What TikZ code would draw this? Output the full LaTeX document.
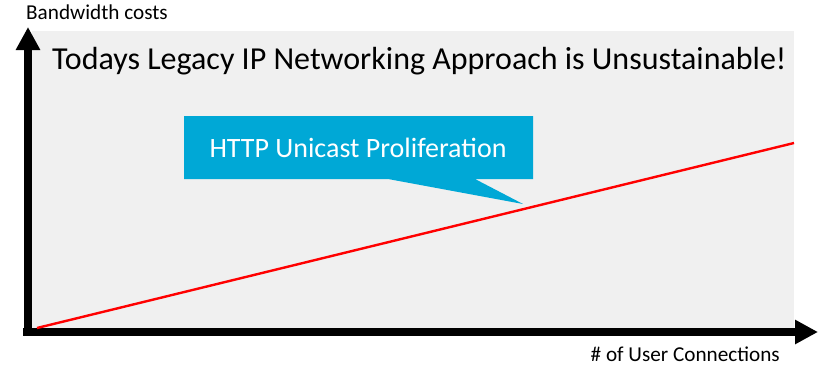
\documentclass[tikz,border=0pt]{standalone}
\usepackage{fontspec}
\setmainfont{Carlito}
\usetikzlibrary{arrows.meta}
\definecolor{panelgrey}{RGB}{240,240,240}
\definecolor{calloutblue}{RGB}{0,168,214}
\definecolor{trendred}{RGB}{255,0,0}
\begin{document}
\begin{tikzpicture}[x=1pt,y=-1pt,
  axis/.style={line width=8pt,-{Triangle[width=23pt,length=23pt]}},
  axislabel/.style={inner sep=0pt,font=\fontsize{21.2}{25}\selectfont},
  trend/.style={draw=trendred,line width=2.4pt},
  bubble/.style={fill=calloutblue},
  bubbletext/.style={inner sep=0pt,text=white,font=\fontsize{28}{32}\selectfont}]
\useasboundingbox (0,0) rectangle (825,367);
% plot area
\fill[panelgrey] (32,31) rectangle (794,328);
% axes
\coordinate (xstart) at (23,332);
\coordinate (xend) at (818,332);
\coordinate (ystart) at (28,336);
\coordinate (yend) at (28,27);
\draw[axis] (ystart) -- (yend);
\draw[axis] (xstart) -- (xend);
\node[axislabel,anchor=base west] (ylab) at (26,19) {Bandwidth costs};
\node[axislabel,anchor=base east] (xlab) at (780,361) {\# of User Connections};
% title
\node[inner sep=0pt,anchor=base west,font=\fontsize{32}{36}\selectfont] (title) at (52,69)
  {Todays Legacy IP Networking Approach is Unsustainable!};
% trend line
\coordinate (tstart) at (37,328);
\coordinate (tend) at (794,143);
\draw[trend] (tstart) -- (tend);
% callout
\coordinate (ptip) at (523,204);
\fill[bubble] (184,116) -- (533,116) -- (533,179) -- (475,179) -- (ptip) -- (388,179) -- (184,179) -- cycle;
\node[bubbletext,anchor=base] (bubblelab) at (358,157) {HTTP Unicast Proliferation};
\end{tikzpicture}
\end{document}
